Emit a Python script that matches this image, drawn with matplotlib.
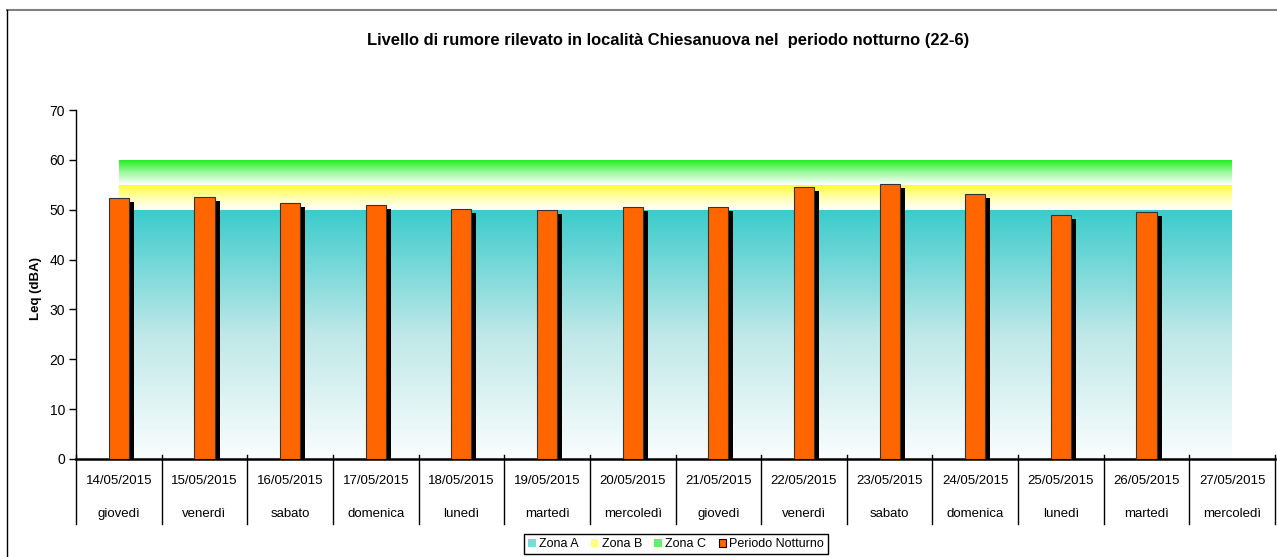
import numpy as np
import matplotlib
matplotlib.use('Agg')
import matplotlib.pyplot as plt
import matplotlib.patheffects as pe
import matplotlib.transforms as mtransforms
from matplotlib.colors import LinearSegmentedColormap
from matplotlib.patches import Patch
from matplotlib.lines import Line2D

plt.rcParams['font.family'] = ['Liberation Sans', 'DejaVu Sans']

# ---------------- data ----------------
dates = ['14/05/2015', '15/05/2015', '16/05/2015', '17/05/2015', '18/05/2015',
         '19/05/2015', '20/05/2015', '21/05/2015', '22/05/2015', '23/05/2015',
         '24/05/2015', '25/05/2015', '26/05/2015', '27/05/2015']
days = ['giovedì', 'venerdì', 'sabato', 'domenica', 'lunedì', 'martedì',
        'mercoledì', 'giovedì', 'venerdì', 'sabato', 'domenica', 'lunedì',
        'martedì', 'mercoledì']
leq_notturno = [52.4, 52.5, 51.4, 50.9, 50.1, 49.9, 50.5, 50.5, 54.5, 55.1,
                53.1, 48.9, 49.5, np.nan]
zona_a = [50] * 14
zona_b = [5] * 14
zona_c = [5] * 14
yticks = [0, 10, 20, 30, 40, 50, 60, 70]

title = 'Livello di rumore rilevato in località Chiesanuova nel  periodo notturno (22-6)'

# ---------------- figure ----------------
W, H = 1277, 557
fig = plt.figure(figsize=(W / 100, H / 100), dpi=100)
ax = fig.add_axes([76 / W, 1 - 459 / H, (1275 - 76) / W, (459 - 110) / H])

n = len(dates)
x = np.arange(n)
base = np.zeros(n)
top_a = base + np.array(zona_a, float)
top_b = top_a + np.array(zona_b, float)
top_c = top_b + np.array(zona_c, float)

zones = [
    (base, top_a, ['#fafdfd', '#bfe8e8', '#3bcbcb']),
    (top_a, top_b, ['#ffffff', '#ffffb0', '#ffff33']),
    (top_b, top_c, ['#ffffff', '#a0f8a0', '#22ee22']),
]
grad = np.linspace(0, 1, 256).reshape(-1, 1)
for lower, upper, cols in zones:
    poly = ax.fill_between(x, lower, upper, facecolor='none', edgecolor='none')
    cmap = LinearSegmentedColormap.from_list('z', cols)
    im = ax.imshow(grad, cmap=cmap, aspect='auto', origin='lower',
                   extent=[x[0], x[-1], lower.min(), upper.max()],
                   zorder=1, interpolation='bilinear')
    im.set_clip_path(poly.get_paths()[0], transform=ax.transData)

ax.bar(x, leq_notturno, width=0.235, color='#ff6600', edgecolor='#333333',
       linewidth=0.8, zorder=3,
       path_effects=[pe.SimplePatchShadow(offset=(3.6, -2.9), shadow_rgbFace='black', alpha=1.0),
                     pe.Normal()])

ax.set_xlim(-0.5, n - 0.5)
ax.set_ylim(0, 70)
ax.set_yticks(yticks)
ax.tick_params(axis='y', direction='out', length=5, width=1, labelsize=10, pad=3)
ax.set_xticks([])
for s in ['top', 'right']:
    ax.spines[s].set_visible(False)
ax.spines['left'].set_linewidth(1.0)
ax.spines['bottom'].set_linewidth(1.8)

trans = mtransforms.blended_transform_factory(ax.transData, ax.transAxes)
for b in np.arange(-0.5, n, 1.0):
    ax.plot([b, b], [0.012, -0.186], transform=trans, color='black', lw=1.0,
            clip_on=False, zorder=5)
for i in range(n):
    ax.text(i, -0.063, dates[i], transform=trans, ha='center', va='center', fontsize=9.5)
    ax.text(i, -0.158, days[i], transform=trans, ha='center', va='center', fontsize=9.5)

fig.text(36 / W, 1 - 288 / H, 'Leq (dBA)', rotation=90, fontweight='bold',
         fontsize=9.5, ha='center', va='center')
fig.text(668 / W, 1 - 40 / H, title, fontweight='bold', fontsize=11.9,
         ha='center', va='center')

handles = [Patch(facecolor='#7fd9d9', edgecolor='none'),
           Patch(facecolor='#ffff88', edgecolor='none'),
           Patch(facecolor='#66ee66', edgecolor='none'),
           Patch(facecolor='#ff6600', edgecolor='black', linewidth=0.8)]
labels = ['Zona A', 'Zona B', 'Zona C', 'Periodo Notturno']
leg = fig.legend(handles, labels, loc='center', bbox_to_anchor=(676 / W, 1 - 544 / H),
                 ncol=4, fontsize=9, frameon=True, fancybox=False,
                 edgecolor='black', framealpha=1, handlelength=0.6,
                 handleheight=0.6, handletextpad=0.25, columnspacing=1.0,
                 borderpad=0.3)
leg.get_frame().set_linewidth(1.0)

# outer frame
fig.add_artist(Line2D([7 / W, 1.0], [1 - 10 / H, 1 - 10 / H], transform=fig.transFigure,
                      color='#808080', lw=1.5))
fig.add_artist(Line2D([7 / W, 7 / W], [1 - 10 / H, 0], transform=fig.transFigure,
                      color='black', lw=1.0))

fig.savefig('out.png', dpi=100)
